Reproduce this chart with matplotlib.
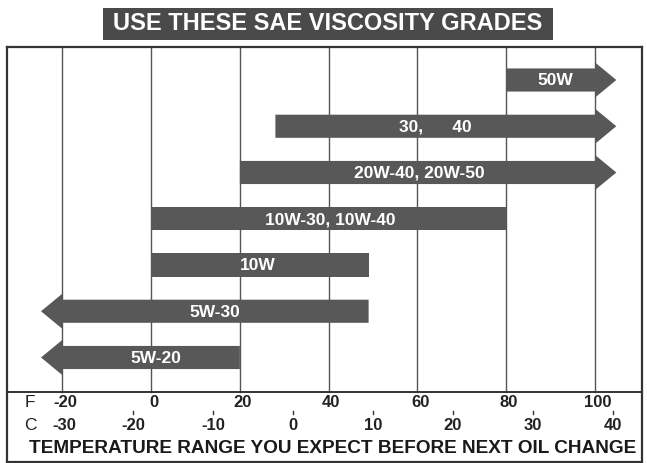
import matplotlib
matplotlib.use("Agg")
import matplotlib.pyplot as plt
from matplotlib.patches import Polygon, Rectangle

# SAE grades, temperature range in deg F (start, end) and arrow direction
grades = ["50W", "30,      40", "20W-40, 20W-50", "10W-30, 10W-40", "10W", "5W-30", "5W-20"]
start_f = [80, 28, 20, 0, 0, -20, -20]
end_f = [100, 100, 100, 80, 49, 49, 20]
arrow = ["right", "right", "right", "none", "none", "left", "left"]
label_x = [91, 64, 60.5, 40.3, 24, 14.4, 1]

f_ticks = [-20, 0, 20, 40, 60, 80, 100]
c_ticks = [-30, -20, -10, 0, 10, 20, 30, 40]

plt.rcParams['font.family'] = ['Liberation Sans', 'DejaVu Sans']

W, H = 647, 463
fig = plt.figure(figsize=(W / 100, H / 100), dpi=100)

# frame of the chart in pixels
fx0, fx1, fy0, fy1 = 7, 642, 47, 462
ax = fig.add_axes([fx0 / W, 1 - fy1 / H, (fx1 - fx0) / W, (fy1 - fy0) / H])

px_per_f = 4.439
f0_px = 151.1
row0_px, row_step = 80, 46.25
ax.set_xlim((fx0 - f0_px) / px_per_f, (fx1 - f0_px) / px_per_f)
ax.set_ylim((fy1 - row0_px) / row_step, (fy0 - row0_px) / row_step)
ax.set_xticks([])
ax.set_yticks([])
for s in ax.spines.values():
    s.set_linewidth(1.6)
    s.set_color("#333333")

def row(px):
    return (px - row0_px) / row_step

def fx(px):
    return (px - f0_px) / px_per_f

sep = row(392)
ax.axhline(sep, color="#333333", lw=1.4)
for f in f_ticks:
    ax.plot([f, f], [row(fy0), sep], color="#555555", lw=1.0, zorder=1)

bar_col = "#585858"
half = 0.25
head = 0.38
head_len = 4.8
for i, (g, a, b, d) in enumerate(zip(grades, start_f, end_f, arrow)):
    if d == "right":
        pts = [(a, i - half), (b, i - half), (b, i - head), (b + head_len, i),
               (b, i + head), (b, i + half), (a, i + half)]
    elif d == "left":
        pts = [(b, i - half), (a, i - half), (a, i - head), (a - head_len, i),
               (a, i + head), (a, i + half), (b, i + half)]
    else:
        pts = [(a, i - half), (b, i - half), (b, i + half), (a, i + half)]
    ax.add_patch(Polygon(pts, closed=True, facecolor=bar_col, edgecolor="none", zorder=3))
    ax.text(label_x[i], i + 0.02, g, color="white", fontsize=12.5, fontweight="bold",
            ha="center", va="center", zorder=4)

# temperature scales
ax.text(fx(30), row(402), "F", fontsize=12.5, ha="center", va="center", color="#222222")
for f in f_ticks:
    ax.text(f + 0.6, row(402), str(f), fontsize=12, fontweight="bold", ha="center", va="center", color="#222222")
ax.text(fx(30), row(425), "C", fontsize=12.5, ha="center", va="center", color="#222222")
for c in c_ticks:
    f = c * 9 / 5 + 32
    ax.text(max(f, -19.5), row(425), str(c), fontsize=12, fontweight="bold", ha="center", va="center", color="#222222")
    if c > -30:
        ax.plot([f, f], [row(411), row(414)], color="#333333", lw=1.0)

ax.text(fx(333), row(448), "TEMPERATURE RANGE YOU EXPECT BEFORE NEXT OIL CHANGE",
        fontsize=13.7, fontweight="bold", ha="center", va="center", color="#1a1a1a")

# title banner
fig.patches.append(Rectangle((103 / W, 1 - 40 / H), 450 / W, 32 / H, transform=fig.transFigure,
                             facecolor="#4a4a4a", edgecolor="none"))
fig.text(328 / W, 1 - 24 / H, "USE THESE SAE VISCOSITY GRADES", color="white",
         fontsize=17, fontweight="bold", ha="center", va="center")

fig.savefig("out.png", dpi=100)
